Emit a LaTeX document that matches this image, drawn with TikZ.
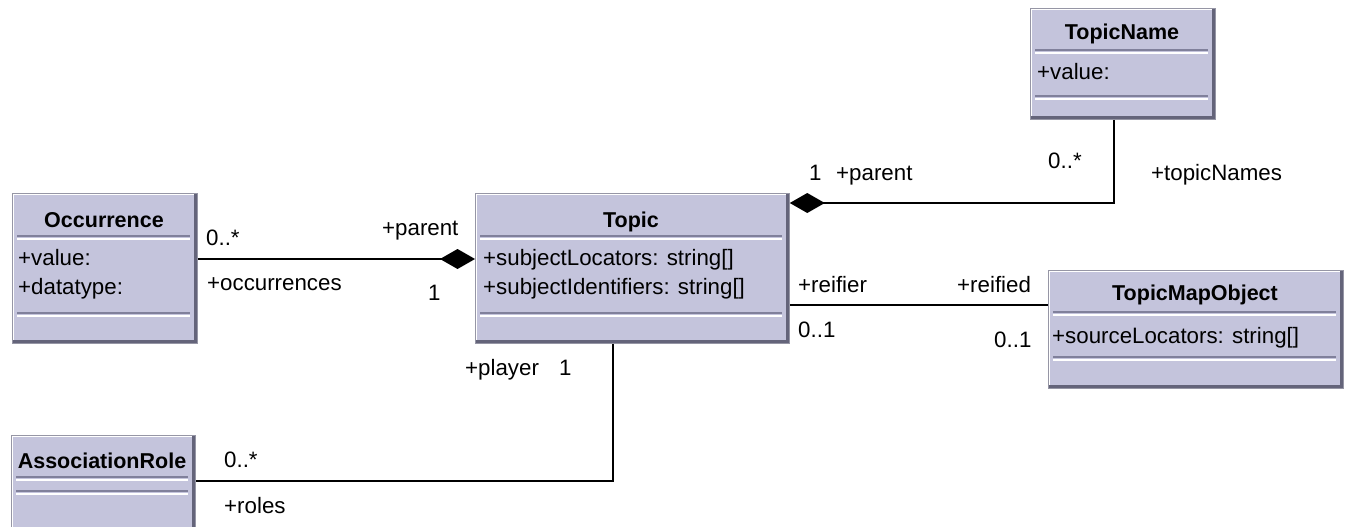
\documentclass[tikz,border=0pt]{standalone}
\usepackage{fontspec}
\setmainfont{Liberation Sans}
\usetikzlibrary{arrows.meta}
\definecolor{boxfill}{RGB}{196,196,220}
\definecolor{boxdark}{RGB}{100,100,122}
\definecolor{boxedge}{RGB}{150,150,165}
\definecolor{sepdark}{RGB}{128,128,155}
\begin{document}
\begin{tikzpicture}[x=1pt,y=-1pt,
  classbox/.style={rectangle, fill=boxfill, draw=boxedge, line width=0.8pt, anchor=north west, inner sep=0pt,
    path picture={
      \draw[white, line width=3pt] (path picture bounding box.south west) -- (path picture bounding box.north west) -- (path picture bounding box.north east);
      \draw[boxdark, line width=6pt] (path picture bounding box.north east) -- (path picture bounding box.south east) -- (path picture bounding box.south west);
    }},
  title/.style={font=\fontsize{21.5}{24}\selectfont\bfseries, anchor=base, inner sep=0pt},
  attr/.style={font=\fontsize{22.3}{26}\selectfont, anchor=base west, inner sep=0pt},
  lbl/.style={font=\fontsize{22.3}{26}\selectfont, anchor=base west, inner sep=0pt},
  assoc/.style={draw=black, line width=1.5pt},
  comp/.style={assoc, -{Diamond[length=35pt,width=20pt]}},
  sepA/.style={draw=sepdark, line width=1.5pt},
  sepB/.style={draw=white, line width=1.5pt},
]
\useasboundingbox (0,0) rectangle (1347,527);
\clip (0,0) rectangle (1347,527);

% class boxes
\node[classbox, minimum width=185pt, minimum height=150pt] (occ) at (12,193) {};
\node[classbox, minimum width=314pt, minimum height=150pt] (topic) at (475,193) {};
\node[classbox, minimum width=185pt, minimum height=111pt] (tn) at (1030,8) {};
\node[classbox, minimum width=295pt, minimum height=118pt] (tmo) at (1048,270) {};
\node[classbox, minimum width=184pt, minimum height=120pt] (ar) at (11,435) {};

% separators
\draw[sepA] (17,236) -- (190,236); \draw[sepB] (17,239) -- (190,239);
\draw[sepA] (17,313) -- (190,313); \draw[sepB] (17,316) -- (190,316);
\draw[sepA] (480,236) -- (782,236); \draw[sepB] (480,239) -- (782,239);
\draw[sepA] (480,313) -- (782,313); \draw[sepB] (480,316) -- (782,316);
\draw[sepA] (1035,50) -- (1208,50); \draw[sepB] (1035,53) -- (1208,53);
\draw[sepA] (1035,96) -- (1208,96); \draw[sepB] (1035,99) -- (1208,99);
\draw[sepA] (1053,312) -- (1336,312); \draw[sepB] (1053,315) -- (1336,315);
\draw[sepA] (1053,357) -- (1336,357); \draw[sepB] (1053,360) -- (1336,360);
\draw[sepA] (16,477) -- (188,477); \draw[sepB] (16,480) -- (188,480);
\draw[sepA] (16,491) -- (188,491); \draw[sepB] (16,494) -- (188,494);

% titles
\node[title] (occT) at (104,227) {Occurrence};
\node[title] (topicT) at (631,227) {Topic};
\node[title] (tnT) at (1122,40) {TopicName};
\node[title] (tmoT) at (1195,300) {TopicMapObject};
\node[title] (arT) at (102,468) {AssociationRole};

% attributes
\node[attr] (occA1) at (18,265) {+value:};
\node[attr] (occA2) at (18,294) {+datatype:};
\node[attr] (topA1) at (483,265) {+subjectLocators: string[]};
\node[attr] (topA2) at (483,294) {+subjectIdentifiers: string[]};
\node[attr] (tnA1) at (1037,80) {+value:};
\node[attr] (tmoA1) at (1052,343) {+sourceLocators: string[]};

% connectors
\coordinate (y1) at (0,259);
\draw[comp] (occ.east |- y1) -- (topic.west |- y1);
\coordinate (c2) at (1114,203);
\draw[comp] (tn.south -| c2) |- (topic.east |- c2);
\coordinate (y3) at (0,305);
\draw[assoc] (topic.east |- y3) -- (tmo.west |- y3);
\coordinate (c4) at (613,481);
\draw[assoc] (topic.south -| c4) |- (ar.east |- c4);

% connector labels
\node[lbl] (l1) at (206,245) {0..*};
\node[lbl] (l2) at (382,235) {+parent};
\node[lbl] (l3) at (207,290) {+occurrences};
\node[lbl] (l4) at (428,300) {1};
\node[lbl] (l5) at (809,180) {1};
\node[lbl] (l6) at (836,180) {+parent};
\node[lbl] (l7) at (1048,168) {0..*};
\node[lbl] (l8) at (1151,180) {+topicNames};
\node[lbl] (l9) at (798,292) {+reifier};
\node[lbl] (l10) at (957,292) {+reified};
\node[lbl] (l11) at (798,337) {0..1};
\node[lbl] (l12) at (994,347) {0..1};
\node[lbl] (l13) at (465,375) {+player};
\node[lbl] (l14) at (559,375) {1};
\node[lbl] (l15) at (224,467) {0..*};
\node[lbl] (l16) at (224,513) {+roles};
\end{tikzpicture}
\end{document}
